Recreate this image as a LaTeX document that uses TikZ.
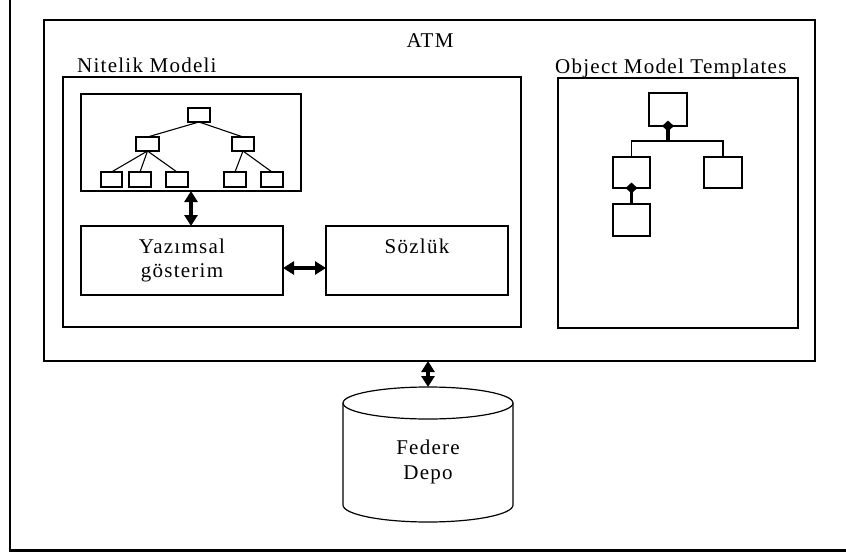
\documentclass[tikz,border=0pt]{standalone}
\usepackage{fontspec}
\setmainfont{Liberation Serif}[LetterSpace=6]
\usetikzlibrary{arrows.meta,shapes.geometric}

% rectangle node given by its corners: name, x1, y1, x2, y2
\newcommand\cornerbox[6][]{%
  \node[box,#1,minimum width={#5-#3},minimum height={#6-#4}]
    (#2) at ({(#3+#5)/2},{(#4+#6)/2}) {};}

\begin{document}
\begin{tikzpicture}[x=1pt,y=-1pt,
  box/.style={draw,line width=1.2pt,inner sep=0pt,outer sep=0pt},
  treebox/.style={box,line width=1.1pt},
  link/.style={line width=1.1pt},
  thicklink/.style={line width=3.2pt},
  dblarrow/.style={line width=3.5pt,
    {Triangle[width=13pt,length=11pt]}-{Triangle[width=13pt,length=11pt]}},
  agg/.style={diamond,fill=black,inner sep=0pt,minimum width=12pt,minimum height=11pt},
  lbl/.style={inner sep=0pt,font=\fontsize{21}{25}\selectfont},
  txt/.style={lbl,align=center}]

\useasboundingbox (0,0) rectangle (846,554);

% page frame: left rule and heavy bottom rule
\coordinate (ftop) at (10,0);
\coordinate (fcorner) at (10,550);
\coordinate (fright) at (846,550);
\draw[line width=1.3pt] (ftop) -- (fcorner);
\draw[line width=3pt] ([xshift=-0.65pt]fcorner) -- (fright);

% main containers
\cornerbox{atm}{44}{20}{815}{361}
\node[lbl,anchor=base] (atmlbl) at (430,47) {ATM};

\cornerbox{nit}{63}{77}{521}{327}
\node[lbl,anchor=base west] (nitlbl) at (77,72) {Nitelik Modeli};

\cornerbox{omt}{558}{78}{798}{328}
\node[lbl,anchor=base west] (omtlbl) at (555,73) {Object Model Templates};

% attribute tree
\cornerbox{tree}{81}{94}{301}{191}
\cornerbox[treebox]{root}{188}{108}{210}{122}
\cornerbox[treebox]{la}{136}{137}{159}{151}
\cornerbox[treebox]{lb}{232}{137}{254}{151}
\cornerbox[treebox]{k1}{101}{172}{122}{187}
\cornerbox[treebox]{k2}{129}{172}{151}{187}
\cornerbox[treebox]{k3}{166}{172}{188}{187}
\cornerbox[treebox]{k4}{224}{172}{246}{187}
\cornerbox[treebox]{k5}{261}{172}{283}{187}
\draw[link] (root.south) -- (la.north);
\draw[link] (root.south) -- (lb.north);
\draw[link] (la.south) -- (k1.north);
\draw[link] (la.south) -- (k2.north);
\draw[link] (la.south) -- (k3.north);
\draw[link] (lb.south) -- (k4.north);
\draw[link] (lb.south) -- (k5.north);

% textual form and dictionary
\cornerbox{yaz}{81}{226}{283}{295}
\node[txt,anchor=base] (yazlbl) at (182,253) {Yazımsal};
\node[txt,anchor=base] (goslbl) at (182,277) {gösterim};
\cornerbox{soz}{326}{226}{508}{295}
\node[lbl,anchor=base] (sozlbl) at (417,253) {Sözlük};

\draw[dblarrow] (tree.south) -- (tree.south |- yaz.north);
\draw[dblarrow] ([yshift=-7.5pt]yaz.east) -- ([yshift=-7.5pt]soz.west);

% object model template hierarchy
\cornerbox{ot}{649}{93}{687}{126}
\cornerbox{oc1}{613}{157}{650}{188}
\cornerbox{oc2}{704}{157}{742}{188}
\cornerbox{og}{613}{204}{650}{236}
\coordinate (join) at (668,141);
\draw[link] (oc1.north) |- (join) -| (oc2.north);
\draw[thicklink] (ot.south) -- (join);
\draw[thicklink] (oc1.south) -- (og.north);
\node[agg] (d1) at (ot.south) {};
\node[agg] (d2) at (oc1.south) {};

% federated repository (cylinder)
\coordinate (cyltop) at (428,387);
\draw[line width=1.2pt] (428,403) ellipse [x radius=85, y radius=16];
\draw[line width=1.2pt] (343,403) -- (343,505)
  arc [start angle=180, end angle=0, x radius=85, y radius=17] -- (513,403);
\node[txt] (cyl) at (428,462) {Federe\\Depo};

\draw[dblarrow] (atm.south -| cyltop) -- (cyltop);

\end{tikzpicture}
\end{document}
